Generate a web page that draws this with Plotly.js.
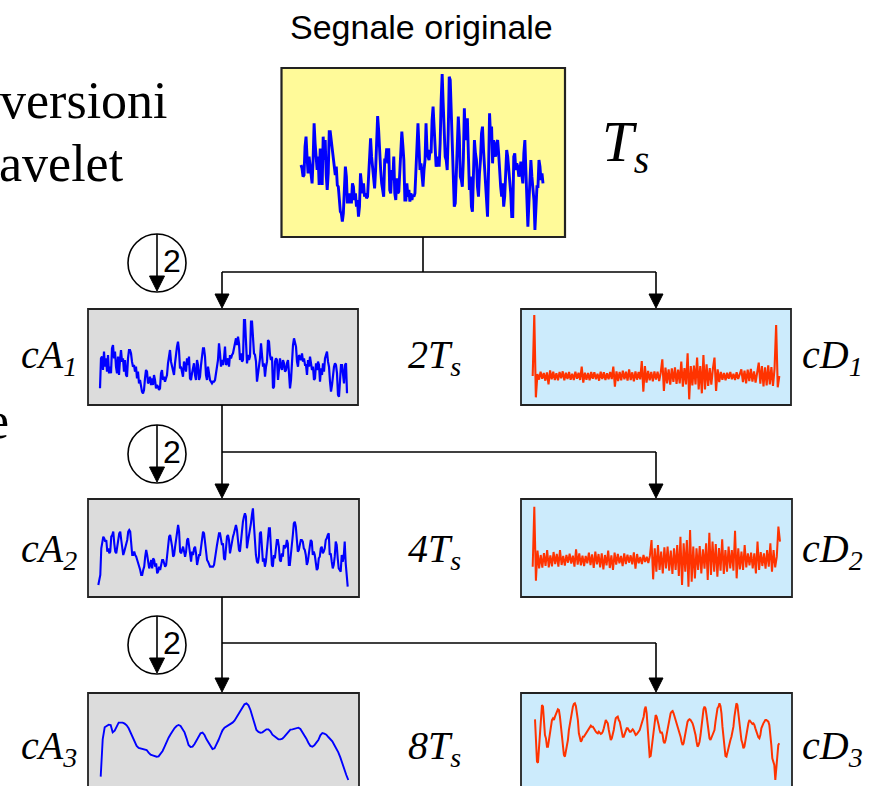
<!DOCTYPE html>
<html>
<head>
<meta charset="utf-8">
<script src="https://cdn.plot.ly/plotly-3.0.1.min.js"></script>
<style>html,body{margin:0;padding:0;background:#fff;}#chart{width:871px;height:786px;}</style>
</head>
<body>
<div id="chart"></div>
<script>
// ---- Signal data (amplitudes, one sample per step) ----
const segnaleOriginale = [20.5,19.5,17,17.5,26,29,23,18,23,20,17.5,15,22,33,27,23,19,23,14.5,25,25,14.5,29,22,28,17.5,13,18,30.5,30.5,28,25,22,20,17.5,20,14.5,14,11,6.5,6,3.5,6,16,20,17,9,12,9,12,9,15,14,10,12,8,10,5,8,18,15,12,15,11,12,10.5,11,18,25.5,28.5,23,19,15,13.5,19,31,35.2,31,23,19,15,12,11,22,22,25.5,21,25.5,13,12,19,16,23,12,10,16.5,12,12.5,19,26.5,30.5,26.5,22,10,10,15,11,13,9.5,12,10,11.5,11,12,18,25,33,26,19,21,16,14,19,22,33,25,23,22,25,24,34,38,32,23,20,22,23,20,27,40,47.8,39,27,23,22,19,30,47,46,37,28,21,8,9,17,24,35,29,17,16,14,22,37.5,28,30,34.5,22,13,17,8,6.5,22,28,24,22,14,11,18,22,30,32,25,20,14,8,5,19,36,29,32,21,28,24,23,27,28,24,18,14,11,15,8,11,18,25,23,20,17,12,5,5,23,24,19,21,20,17,18,21.5,17.5,15,24,28,19,10,2,9,19,22,17,14,10,1,9,14,14,22,20,16,18,15];

const cA1 = [3.5,12.5,13,9,14.5,10,12.5,8.5,13.5,8,10,8,15.5,16.5,12.5,14.5,10,8,13,7.5,12,15,11.5,12.5,8.5,12,7.5,7,12.5,15,15,14,11.5,10,10.5,8.5,10,6.5,8.5,5,6,3.5,2.5,2,3,6.5,9,8.5,5,5.5,7,4.5,6.5,4.5,7.5,6,3.5,4.5,4,3,3.5,8,9,6,7,5.5,7,7.5,11,12.5,15,11.5,10,8,7.5,11,14,16,17.5,15,9.5,10,8.5,7,11.5,10.5,8.5,12.5,10.5,13,6.5,6,8,10,11,7.5,6,12,10.5,6,7,10.5,13,15.5,15.5,13,7.5,6,10,7,6,5.5,5,5.5,5.5,6,7.5,10,12,17,14,10,12,10.5,12.5,16,10.5,11,12.5,10,13.5,12.5,13.5,14,15.5,17,18.5,16.5,19,17,12,14,11.5,12,24,24,14.5,11,13.5,12,13,23.5,23.5,16,14,13.5,11.5,5.5,8,10.5,12.5,17,12,10,11,7,10,11.5,18,17.5,13.5,12,13,3.5,4,11.5,12.5,12,6,9.5,12.5,10,9,12,11,8.5,9,11,12,8,3.5,6,12,16.5,18.5,16.5,16,11.5,10,13.5,12.5,12,14,11.5,12.5,10.5,10.5,7.5,12,10,13,11.5,9,10,6,6.5,11,9,11.5,10.5,5.5,9.5,7.5,11,8.5,12.5,14,14.5,11.5,10,5.5,2.5,4.5,7.5,10,11,10.5,8,1.5,1,8,10.5,10.5,7.5,5,10.5,11,2];

const cD1 = [0,18.3,-6.4,0.6,-1.1,1.3,-0.8,0.9,-1.4,1.1,-2.5,1.7,-1.0,1.3,-1.2,0.8,-1.3,1.2,-0.7,1.4,-1.3,1.0,-0.9,1.2,-1.1,0.7,-1.2,1.3,-0.8,1.0,-1.2,2.8,-2.0,1.0,-1.1,0.9,-1.3,1.2,-0.8,1.1,-1.0,0.7,-1.4,1.3,-0.9,1.1,-1.2,0.8,-1.0,1.2,-0.9,2.8,-3.2,1.4,-1.5,1.2,-1.3,1.6,-1.0,1.3,-1.4,2.0,-1.2,1.1,-1.6,1.4,-1.1,1.2,-1.0,4.5,-4.7,3.0,-2.0,1.5,-1.3,1.2,-1.6,1.4,-1.1,1.3,-1.5,1.0,5.0,-4.5,2.5,-2.2,2.0,-2.6,2.3,-1.8,2.6,-2.4,1.9,-2.2,4.3,-3.2,2.4,-2.5,6.8,-7.0,3.0,-2.8,3.1,-2.5,5.5,-4.0,3.0,-5.2,6.3,-4.0,3.5,-3.0,2.4,-2.6,2.2,5.5,-4.5,2.0,-1.8,1.2,-1.1,0.9,-1.3,1.0,-0.8,1.2,-1.0,0.7,-1.2,1.1,-0.9,1.0,2.0,-1.8,1.6,-2.2,1.9,-1.5,2.1,-1.7,1.4,-2.0,1.8,4.0,-2.3,3.0,-3.1,2.6,-2.8,3.2,-2.5,2.7,-3.0,2.2,15.3,-3.4,0];

const cA2 = [1.5,3.5,4.5,12.5,14.5,16,15.5,14.5,15,11.5,12.5,11,11.5,16,16.5,17.5,14,11.5,11,12.5,15,17,17.5,15,13,10.5,11.5,12.5,14,15,17.5,18,17.5,14,10.5,10.5,11.5,10.5,10,9,8,7.5,6,4.5,4.5,6,7,10,12,10.5,7.5,6.5,7.5,9,6.5,9.5,9,7,8,5,5.5,7,6,8,9,9,7.5,7,7.5,10.5,12.5,16,16.5,15,13,10,10.5,13,15,17,19.5,17.5,11.5,11,12,13,11.5,10,11.5,15,15.5,13,9.5,8.5,11.5,10.5,12.5,13,11,7.5,9,10.5,10.5,13,15.5,17.5,17,13.5,10.5,9,8.5,7.5,7,7,7,7,7.5,9,11.5,13.5,15,17,17,15,13.5,14,9.5,9,13,16,16.5,15,11,13,15,16,17,18.5,19.5,18,14.5,12,11.5,15.5,19,20.5,22,23,22,12.5,14.5,16,17.5,20,22.5,24.5,19.5,13.5,10.5,8.5,8,10,17,17.5,12.5,8.5,9.5,7,8.5,11.5,15,18.5,18.5,14.5,7.5,7,10.5,9.5,12.5,15,15,13,9,8.5,11,10,13.5,12.5,13,15,14,7.5,7.5,10,13,16.5,20,20.5,19,15,11.5,12,14,15,15,14.5,12.5,12,10.5,7.5,8.5,11.5,13,15,14.5,10.5,11.5,10.5,8,6,6.5,9.5,10,12.5,13,11,11.5,12.5,15,15.5,16.5,17,10.5,11,8.5,6.5,7.5,10,14.5,13.5,9.5,6.5,6,5.5,10.5,8.5,10,14.5,8,4.5,1];

const cD2 = [-2,16,-6.2,2.8,-2.5,1.5,-2.3,2.1,-1.8,3.0,-2.2,1.4,-1.9,2.4,-1.2,1.8,-2.0,3.0,-1.5,1.2,-1.7,1.5,-0.8,1.9,-1.1,1.3,-2.0,3.2,-1.4,2.0,-1.6,1.3,-1.8,1.2,-1.0,2.2,-1.5,1.7,-2.4,2.5,-1.3,1.8,-2.2,2.0,-2.8,1.5,-1.6,2.8,-2.4,1.4,-3.0,2.2,-1.4,1.8,-1.0,1.2,-1.8,2.0,-1.2,1.6,-0.8,1.4,-1.3,2.3,-2.6,1.8,-1.0,0.9,-1.2,1.5,-0.6,1.0,-0.9,1.3,6.0,-5.8,3.5,-3.5,4.5,-3.0,2.5,-4.0,3.8,-2.5,4.0,-3.2,2.8,-4.2,3.5,-3.0,4.5,-4.8,7.0,-7.5,5.0,-3.5,6.0,-8.0,9.0,-6.5,4.0,-5.5,3.5,-3.0,4.2,-4.0,3.2,-2.6,5.0,-6.0,8.2,-4.5,5.5,-3.5,4.8,-5.0,3.6,-3.2,6.2,-4.2,3.0,-3.5,4.0,-2.5,3.0,-3.2,8.8,-5.5,3.5,-2.8,2.5,-3.0,4.5,-2.2,2.0,-1.6,2.2,-2.5,2.0,-4.0,5.5,-3.0,2.4,-1.8,2.0,-2.6,3.0,-2.0,5.0,-3.5,3.0,-2.2,1.0,10.0,5.5];

const cA3 = [1,12.2,15.8,16.3,16.6,16.5,14.3,14.8,16.3,17.2,17.2,17.2,16.9,16.4,15.5,14.2,12.8,11.2,10.2,9.6,9.4,9.2,9.2,9,8.2,7.6,7.4,7.2,7,7.1,7.8,8.7,10,11.5,12.7,13.7,14.7,15.6,16.2,16.5,16.2,15.4,14.3,12.5,10.5,9.9,10,10.8,11.8,13,14,14.2,13.5,12.2,11.2,10.2,9.3,9.5,10.6,12,13.5,14.9,15.7,16.1,16.3,16.7,17.2,17.8,18.8,19.9,21,22.1,22.7,23,22.4,21,19.2,16.8,15,14.4,14.2,14.3,14.7,15.2,15.2,14.6,13.6,13.1,12.6,12.2,12.2,12.4,13,13.8,14.6,15.1,15.2,15.3,15.6,15.7,15.3,14.4,13.4,12.4,11.2,10.2,10,10.4,11.2,12,13.4,14.1,13.9,13.6,12.9,12.2,11.6,10.5,9.5,8.3,6.8,4.8,3,1.5,0];

const cD3 = [18.2,8.5,5.5,5.2,10,12.5,18,22.5,22,17,13.5,12.5,10,10,12,15,17.5,18,18.5,18,19,20,20.5,21.2,21,19,16.5,14,10.5,7.5,7,8.5,10.5,12,15,17,19,21,22,22.8,23,22.2,20,18,14,12,11.5,12,13,13,13.5,14,14.5,15,15.2,16,16.3,16,16,15.5,14.8,14.5,14.2,14,14.5,14,13.8,14,14.5,15.5,17,18,17.5,17,15,13.5,12,12.5,13.5,15,17,18.5,18.8,19,18,17.5,16,14,13,13,14,15,15.5,15.5,15,14.5,14.5,15,15.2,14.8,14,13.5,13.7,14.2,14.5,15,16,17.2,18.2,19,21.2,22,20,16,10,7,7.2,9.5,12.5,15.5,18,19.5,19,18,16.5,15,14,14.5,13.5,11.5,11,12,13.5,15,17.5,19,20,20.5,20.7,20,19,18,17,16,15,14.5,13,11.5,10.5,11,12.5,15,16.2,17.5,18,18.2,18,17.5,17,16,15,13.5,11.5,10,10.5,11.5,13.5,16,19,21.2,22,21.5,19.5,17,14.5,12.5,12,12.8,13,13.8,15,17.5,20,21.5,22,23,22.2,20,16,12.5,9.5,7.2,7,8.5,9.5,11,12,13,14.5,16,19,21,23,22.5,20,17.5,14,12,11,9.5,10,12,14,15.5,17,18,17.5,17.2,16.8,17,16.5,15.5,14.5,13.5,12.8,12.5,13.5,15.5,16.5,17,17.5,18,18,17.8,17.5,16.5,14,10.5,6.5,5.5,4.5,0,4,8,10.5,11];

// ---- Labels ----
const titolo = 'Segnale originale';
const etichetteA = ['cA<sub>1</sub>','cA<sub>2</sub>','cA<sub>3</sub>'];
const etichetteD = ['cD<sub>1</sub>','cD<sub>2</sub>','cD<sub>3</sub>'];
const periodi = ['2T<sub>s</sub>','4T<sub>s</sub>','8T<sub>s</sub>'];
const periodoBase = 'T<sub>s</sub>';
const testoSinistra = ['versioni','avelet','e'];
const fattore = '2';

// ---- Geometry (pixels) ----
const W = 871, H = 786, K = 10/3;
const X = p => p / W, Y = p => 1 - p / H;
const BLUE = '#0000FF', RED = '#FF3300';
const YELLOW = '#FFFA99', GREY = '#DCDCDC', LBLUE = '#CCEBFC';

const panels = [
  {d: segnaleOriginale, box:[281.5,68,565,237], sx:[301,543], p0:233.33, c:BLUE, w:2.9, f:YELLOW},
  {d: cA1, box:[88,309,358,405], sx:[100,347], p0:400, c:BLUE, w:2.2, f:GREY},
  {d: cD1, box:[521,309,791,405], sx:[532.7,779.3], p0:376, c:RED, w:2.1, f:LBLUE},
  {d: cA2, box:[88,499,359,597], sx:[98.3,347.7], p0:590, c:BLUE, w:2.1, f:GREY},
  {d: cD2, box:[521,499,792,597], sx:[532.7,780], p0:560, c:RED, w:2.0, f:LBLUE},
  {d: cA3, box:[88,693,359,820], sx:[100.7,348.3], p0:780, c:BLUE, w:1.9, f:GREY},
  {d: cD3, box:[521,693,792,820], sx:[535,779.3], p0:780, c:RED, w:2.0, f:LBLUE}
];

const traces = [], shapes = [], annotations = [];
const layout = {
  width: W, height: H, margin:{l:0,r:0,t:0,b:0},
  paper_bgcolor:'#ffffff', plot_bgcolor:'rgba(0,0,0,0)',
  showlegend:false, hovermode:false
};

panels.forEach((p, i) => {
  const [L,T,R,B] = p.box;
  const Bc = Math.min(B, H);
  const n = p.d.length;
  const step = (p.sx[1] - p.sx[0]) / (n - 1);
  const xr = [-(p.sx[0] - L) / step, (n - 1) + (R - p.sx[1]) / step];
  const yr = [(p.p0 - Bc) / K, (p.p0 - T) / K];
  const sfx = i === 0 ? '' : String(i + 1);
  layout['xaxis' + sfx] = {domain:[X(L), X(R)], range:xr, visible:false, fixedrange:true, anchor:'y' + sfx};
  layout['yaxis' + sfx] = {domain:[Y(Bc), Y(T)], range:yr, visible:false, fixedrange:true, anchor:'x' + sfx};
  traces.push({
    x: p.d.map((_, k) => k), y: p.d, type:'scatter', mode:'lines',
    xaxis:'x' + sfx, yaxis:'y' + sfx,
    line:{color:p.c, width:p.w}, hoverinfo:'skip'
  });
  shapes.push({type:'rect', xref:'paper', yref:'paper', layer:'below',
    x0:X(L), x1:X(R), y0:Y(B), y1:Y(T),
    fillcolor:p.f, line:{color:'#222222', width:i === 0 ? 2.2 : 1.8}});
});

function seg(x0,y0,x1,y1,w){
  shapes.push({type:'line', xref:'paper', yref:'paper', x0:X(x0), y0:Y(y0), x1:X(x1), y1:Y(y1),
    line:{color:'#000', width:w || 1.6}});
}
function tri(x, tip, hw, h){
  const path = `M ${X(x-hw)},${Y(tip-h)} L ${X(x+hw)},${Y(tip-h)} L ${X(x)},${Y(tip)} Z`;
  shapes.push({type:'path', xref:'paper', yref:'paper', path:path, fillcolor:'#000', line:{color:'#000', width:1}});
}

// connectors
const AX = 222, DX = 656;
seg(423,237,423,272);
seg(AX,272,DX,272); seg(AX,272,AX,296); tri(AX,308,7,14); seg(DX,272,DX,296); tri(DX,308,7,14);
seg(AX,405,AX,486); tri(AX,498,7,14); seg(AX,452,DX,452); seg(DX,452,DX,486); tri(DX,498,7,14);
seg(AX,597,AX,680); tri(AX,692,7,14); seg(AX,643,DX,643); seg(DX,643,DX,680); tri(DX,692,7,14);

// downsampling circles
const circY = [263, 454, 645];
circY.forEach(cy => {
  const cx = 157, r = 29;
  shapes.push({type:'circle', xref:'paper', yref:'paper', x0:X(cx-r), x1:X(cx+r), y0:Y(cy+r), y1:Y(cy-r),
    line:{color:'#000', width:1.6}, fillcolor:'rgba(255,255,255,0)'});
  seg(cx, cy - r, cx, cy + 14, 1.6);
  tri(cx, cy + r - 1, 7.5, 15);
  annotations.push({text:fattore, x:X(171.5), y:Y(cy - 2), xref:'paper', yref:'paper', showarrow:false,
    xanchor:'center', yanchor:'middle', font:{family:'Liberation Sans, Arial, sans-serif', size:32, color:'#000'}});
});

const serifI = {family:'Liberation Serif, Times New Roman, serif', size:40, color:'#000', style:'italic'};
const rowsY = [357, 551, 748];
rowsY.forEach((ry, i) => {
  annotations.push({text:etichetteA[i], x:X(79), y:Y(ry), xref:'paper', yref:'paper', showarrow:false,
    xanchor:'right', yanchor:'middle', font:serifI});
  annotations.push({text:etichetteD[i], x:X(800), y:Y(ry), xref:'paper', yref:'paper', showarrow:false,
    xanchor:'left', yanchor:'middle', font:serifI});
  annotations.push({text:periodi[i], x:X(406), y:Y(ry), xref:'paper', yref:'paper', showarrow:false,
    xanchor:'left', yanchor:'middle', font:serifI});
});

annotations.push({text:titolo, x:X(421), y:Y(27), xref:'paper', yref:'paper', showarrow:false,
  xanchor:'center', yanchor:'middle', font:{family:'Liberation Sans, Arial, sans-serif', size:34, color:'#000'}});
annotations.push({text:periodoBase, x:X(600), y:Y(146), xref:'paper', yref:'paper', showarrow:false,
  xanchor:'left', yanchor:'middle', font:{family:'Liberation Serif, Times New Roman, serif', size:57, color:'#000', style:'italic'}});

const serifR = {family:'Liberation Serif, Times New Roman, serif', size:52, color:'#000'};
annotations.push({text:testoSinistra[0], x:X(170), y:Y(100), xref:'paper', yref:'paper', showarrow:false, xanchor:'right', yanchor:'middle', font:serifR});
annotations.push({text:testoSinistra[1], x:X(126), y:Y(163), xref:'paper', yref:'paper', showarrow:false, xanchor:'right', yanchor:'middle', font:serifR});
annotations.push({text:testoSinistra[2], x:X(11), y:Y(420), xref:'paper', yref:'paper', showarrow:false, xanchor:'right', yanchor:'middle', font:serifR});

layout.shapes = shapes;
layout.annotations = annotations;
Plotly.newPlot('chart', traces, layout, {staticPlot:true, displayModeBar:false});
</script>
</body>
</html>
